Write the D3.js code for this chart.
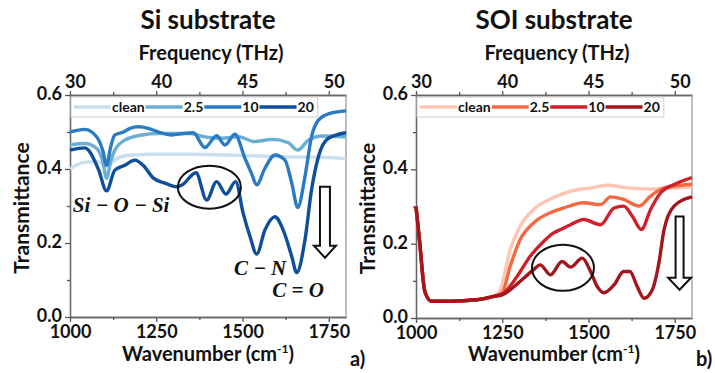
<!DOCTYPE html>
<html>
<head>
<meta charset="utf-8">
<script src="https://cdn.jsdelivr.net/npm/d3@7"></script>
<style>
  body { margin: 0; background: #fff; }
  text { font-family: Lato, "Open Sans", sans-serif; fill: #111; }
  .ann { font-family: "Liberation Serif", "DejaVu Serif", serif; font-style: italic; font-weight: bold; }
</style>
</head>
<body>
<div id="chart"></div>
<script>
// dados: [número de onda (cm-1), transmitância]
const seriesNames = ["clean", "2.5", "10", "20"];
const wnTicks = [1000, 1250, 1500, 1750];
const wnMinor = [1125, 1375, 1625];
const freqLabels = ["30", "40", "45", "50"];
const tTicks = [0, 0.2, 0.4, 0.6];
const tMinor = [0.1, 0.3, 0.5];

const siClean = [[1000,0.40],[1040,0.418],[1080,0.42],[1106,0.408],[1130,0.425],[1170,0.437],[1250,0.44],[1350,0.44],[1450,0.438],[1550,0.435],[1650,0.432],[1700,0.432],[1800,0.428]];
const si25 = [[1000,0.465],[1043,0.469],[1077,0.456],[1095,0.42],[1106,0.375],[1118,0.42],[1130,0.451],[1159,0.478],[1208,0.492],[1256,0.496],[1304,0.496],[1350,0.496],[1391,0.487],[1440,0.483],[1488,0.487],[1536,0.474],[1585,0.48],[1633,0.471],[1660,0.451],[1691,0.478],[1730,0.489],[1800,0.487]];
const si10 = [[1000,0.50],[1043,0.507],[1077,0.487],[1095,0.45],[1106,0.41],[1118,0.46],[1130,0.492],[1155,0.50],[1174,0.51],[1198,0.514],[1227,0.51],[1256,0.50],[1295,0.492],[1328,0.496],[1357,0.498],[1391,0.458],[1425,0.49],[1449,0.465],[1478,0.494],[1507,0.429],[1526,0.388],[1541,0.357],[1565,0.402],[1594,0.438],[1623,0.424],[1643,0.361],[1660,0.296],[1681,0.379],[1700,0.487],[1720,0.532],[1749,0.549],[1800,0.557]];
const si20 = [[1000,0.451],[1043,0.457],[1082,0.40],[1106,0.341],[1130,0.397],[1159,0.41],[1188,0.424],[1212,0.41],[1241,0.376],[1275,0.362],[1309,0.352],[1325,0.357],[1365,0.39],[1396,0.316],[1425,0.366],[1452,0.332],[1480,0.366],[1502,0.28],[1522,0.217],[1541,0.170],[1565,0.235],[1594,0.271],[1618,0.235],[1643,0.163],[1657,0.12],[1681,0.208],[1700,0.343],[1720,0.433],[1749,0.483],[1800,0.498]];

const soiClean = [[1000,0.30],[1010,0.21],[1026,0.07],[1045,0.045],[1100,0.045],[1176,0.049],[1225,0.058],[1244,0.076],[1273,0.184],[1302,0.247],[1341,0.292],[1399,0.324],[1448,0.341],[1506,0.35],[1554,0.357],[1613,0.35],[1671,0.347],[1719,0.349],[1800,0.352]];
const soi25 = [[1000,0.30],[1010,0.21],[1026,0.07],[1045,0.045],[1100,0.045],[1176,0.049],[1225,0.058],[1250,0.068],[1273,0.139],[1302,0.211],[1341,0.256],[1399,0.287],[1428,0.296],[1486,0.31],[1535,0.305],[1564,0.326],[1602,0.319],[1646,0.301],[1680,0.328],[1719,0.35],[1800,0.36]];
const soi10 = [[1000,0.30],[1010,0.21],[1026,0.07],[1045,0.045],[1100,0.045],[1176,0.049],[1225,0.058],[1254,0.067],[1293,0.112],[1331,0.166],[1370,0.206],[1399,0.229],[1419,0.238],[1448,0.251],[1486,0.265],[1535,0.251],[1574,0.296],[1602,0.301],[1627,0.274],[1653,0.238],[1680,0.292],[1709,0.337],[1748,0.359],[1800,0.378]];
const soi20 = [[1000,0.30],[1010,0.21],[1026,0.07],[1045,0.045],[1100,0.045],[1176,0.049],[1225,0.058],[1250,0.062],[1273,0.076],[1312,0.107],[1341,0.13],[1360,0.143],[1390,0.116],[1423,0.152],[1448,0.137],[1482,0.161],[1506,0.125],[1525,0.085],[1545,0.068],[1574,0.089],[1602,0.125],[1620,0.125],[1641,0.085],[1661,0.053],[1685,0.076],[1704,0.148],[1719,0.238],[1748,0.301],[1800,0.326]];

const blues = ["#c9def1", "#6aaed6", "#2b7bc4", "#0e4f9c"];
const reds = ["#fcc6b2", "#f4693f", "#d01f28", "#a3161d"];

const svg = d3.select("#chart")
  .append("svg")
    .attr("width", 715)
    .attr("height", 373);

function drawPanel(cfg) {
  const x = d3.scaleLinear().domain([1000, 1800]).range([cfg.left, cfg.right]);
  const y = d3.scaleLinear().domain([0, 0.6]).range([cfg.bottom, cfg.top]);
  const g = svg.append("g");
  const cx = (cfg.left + cfg.right) / 2;

  // títulos
  g.append("text").attr("x", cx).attr("y", 29).attr("text-anchor", "middle")
    .style("font-size", "26px").style("font-weight", "bold").text(cfg.title);
  g.append("text").attr("x", cx + 3).attr("y", 60).attr("text-anchor", "middle")
    .style("font-size", "20px").style("font-weight", "bold").text("Frequency (THz)");
  const xl = g.append("text").attr("x", cx).attr("y", 361).attr("text-anchor", "middle")
    .style("font-size", "20px").style("font-weight", "bold").text("Wavenumber (cm");
  xl.append("tspan").attr("dy", -8).style("font-size", "12px").text("-1");
  xl.append("tspan").attr("dy", 8).text(")");
  g.append("text")
    .attr("transform", `translate(${cfg.left - 41},${(cfg.top + cfg.bottom) / 2 + 2}) rotate(-90)`)
    .attr("text-anchor", "middle")
    .style("font-size", "21px").style("font-weight", "bold").text("Transmittance");
  g.append("text").attr("x", cfg.right + 4).attr("y", 366).style("font-size", "20px")
    .style("font-weight", "bold").text(cfg.tag);

  // eixos
  const axStyle = sel => {
    sel.select(".domain").attr("stroke", "#666").attr("stroke-width", 1.3);
    sel.selectAll(".tick line").attr("stroke", "#555").attr("stroke-width", 1.3);
    sel.selectAll("text").style("font-size", "18px").style("font-weight", "bold")
      .style("font-family", "Lato, sans-serif").attr("fill", "#111");
  };
  g.append("g").attr("transform", `translate(0,${cfg.bottom})`)
    .call(d3.axisBottom(x).tickValues(wnTicks).tickSize(5).tickPadding(3).tickSizeOuter(0)
      .tickFormat(d3.format("d"))).call(axStyle);
  g.append("g").attr("transform", `translate(0,${cfg.bottom})`)
    .call(d3.axisBottom(x).tickValues(wnMinor).tickSize(3).tickFormat("").tickSizeOuter(0)).call(axStyle);
  g.append("g").attr("transform", `translate(0,${cfg.top})`)
    .call(d3.axisTop(x).tickValues(wnTicks).tickSize(4).tickSizeOuter(0)
      .tickFormat((d, i) => freqLabels[i])).call(axStyle)
    .selectAll("text").attr("dx", 5);
  g.append("g").attr("transform", `translate(0,${cfg.top})`)
    .call(d3.axisTop(x).tickValues(wnMinor).tickSize(3).tickFormat("").tickSizeOuter(0)).call(axStyle);
  g.append("g").attr("transform", `translate(${cfg.left},0)`)
    .call(d3.axisLeft(y).tickValues(tTicks).tickSize(5).tickFormat(d3.format(".1f")).tickSizeOuter(0))
    .call(axStyle)
    .selectAll("text").attr("dy", "0.25em");
  g.append("g").attr("transform", `translate(${cfg.left},0)`)
    .call(d3.axisLeft(y).tickValues(tMinor).tickSize(3).tickFormat("").tickSizeOuter(0)).call(axStyle);
  g.append("line").attr("x1", cfg.right).attr("x2", cfg.right)
    .attr("y1", cfg.top).attr("y2", cfg.bottom).attr("stroke", "#999").attr("stroke-width", 1.3);

  // curvas
  const line = d3.line().x(d => x(d[0])).y(d => y(d[1])).curve(d3.curveMonotoneX);
  cfg.series.forEach((s, i) => {
    g.append("path").datum(s)
      .attr("d", line)
      .attr("fill", "none")
      .attr("stroke", cfg.colors[i])
      .attr("stroke-width", 3.4)
      .attr("stroke-linejoin", "round");
  });

  // legenda
  const leg = g.append("g");
  const box = leg.append("rect").attr("x", cfg.left + 1).attr("y", cfg.top + 2)
    .attr("height", 20).attr("fill", "#fff").attr("stroke", "#ccc");
  let lx = cfg.left + 4;
  seriesNames.forEach((n, i) => {
    leg.append("line").attr("x1", lx).attr("x2", lx + 37)
      .attr("y1", cfg.top + 12).attr("y2", cfg.top + 12)
      .attr("stroke", cfg.colors[i]).attr("stroke-width", 3.4);
    const t = leg.append("text").attr("x", lx + 38).attr("y", cfg.top + 17)
      .style("font-size", "14px").style("font-weight", "bold").text(n);
    lx += 39 + t.node().getComputedTextLength();
  });
  box.attr("width", lx - cfg.left + 2);

  // anotações
  g.append("ellipse").attr("cx", x(cfg.ell[0])).attr("cy", y(cfg.ell[1]))
    .attr("rx", cfg.ell[2]).attr("ry", cfg.ell[3])
    .attr("fill", "none").attr("stroke", "#111").attr("stroke-width", 2);
  const ax = x(cfg.arrow[0]), ay0 = y(cfg.arrow[1]), ay1 = y(cfg.arrow[2]);
  const hw = cfg.arrow[3], sw = cfg.arrow[4], hh = 12;
  g.append("path")
    .attr("d", `M${ax - sw},${ay0} L${ax + sw},${ay0} L${ax + sw},${ay1 - hh} L${ax + hw},${ay1 - hh}
      L${ax},${ay1} L${ax - hw},${ay1 - hh} L${ax - sw},${ay1 - hh} Z`)
    .attr("fill", "#fff").attr("stroke", "#111").attr("stroke-width", 2).attr("stroke-linejoin", "miter");
  cfg.labels.forEach(l => {
    g.append("text").attr("class", "ann").attr("x", x(l[0])).attr("y", y(l[1]))
      .style("font-size", "21px").text(l[2]);
  });
}

drawPanel({
  title: "Si substrate", tag: "a)",
  left: 70, right: 346, top: 95, bottom: 317,
  series: [siClean, si25, si10, si20], colors: blues,
  ell: [1404, 0.351, 31.5, 21.5],
  arrow: [1739, 0.352, 0.16, 11, 5],
  labels: [[1008, 0.285, "Si − O − Si"], [1475, 0.114, "C − N"], [1586, 0.055, "C = O"]]
});

drawPanel({
  title: "SOI substrate", tag: "b)",
  left: 416, right: 692, top: 95, bottom: 318,
  series: [soiClean, soi25, soi10, soi20], colors: reds,
  ell: [1426, 0.135, 31, 23],
  arrow: [1764, 0.273, 0.076, 11.5, 4],
  labels: []
});
</script>
</body>
</html>
